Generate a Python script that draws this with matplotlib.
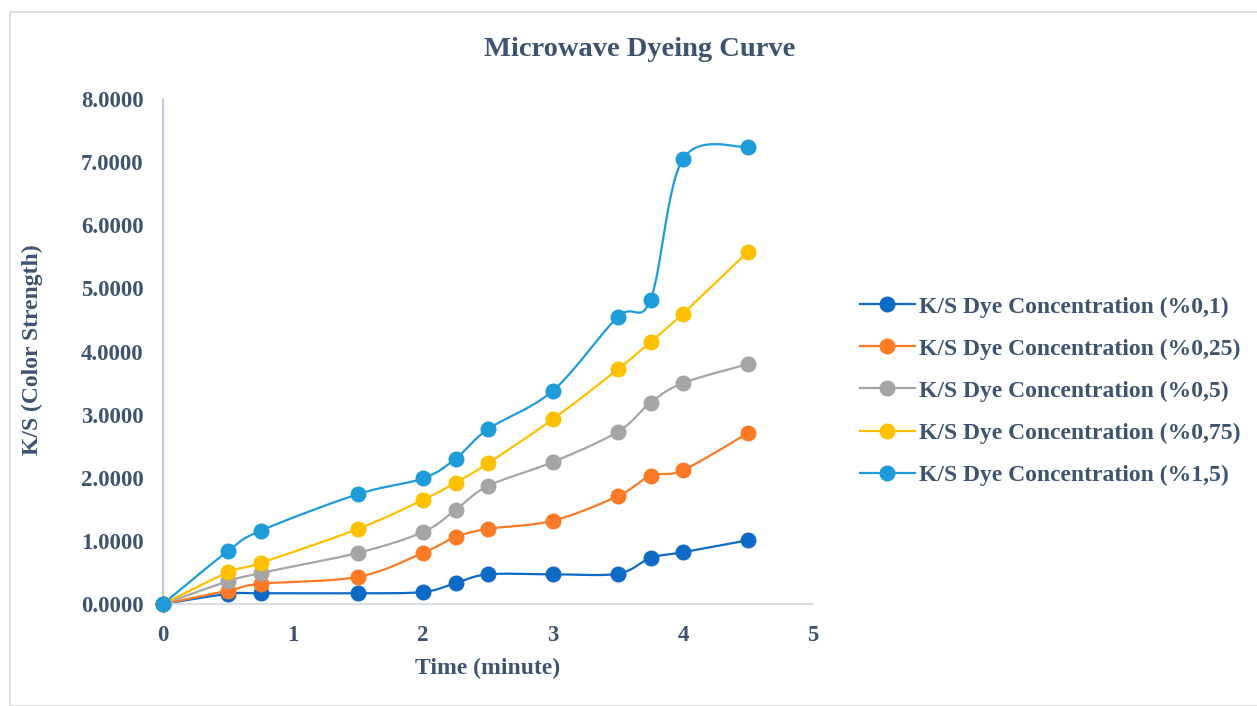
import numpy as np
import matplotlib.pyplot as plt
from matplotlib.patches import Rectangle

# time points (minute)
time = [0, 0.5, 0.75, 1.5, 2, 2.25, 2.5, 3, 3.5, 3.75, 4, 4.5]

ks_01 = [0, 0.16, 0.17, 0.17, 0.19, 0.33, 0.47, 0.47, 0.48, 0.73, 0.82, 1.01]
ks_025 = [0, 0.21, 0.32, 0.43, 0.81, 1.06, 1.19, 1.32, 1.71, 2.03, 2.12, 2.71]
ks_05 = [0, 0.36, 0.49, 0.81, 1.14, 1.49, 1.87, 2.25, 2.73, 3.19, 3.50, 3.80]
ks_075 = [0, 0.50, 0.65, 1.19, 1.65, 1.92, 2.23, 2.93, 3.72, 4.15, 4.60, 5.58]
ks_15 = [0, 0.84, 1.16, 1.74, 1.99, 2.30, 2.77, 3.38, 4.55, 4.82, 7.05, 7.24]

labels = ["K/S Dye Concentration (%0,1)", "K/S Dye Concentration (%0,25)",
          "K/S Dye Concentration (%0,5)", "K/S Dye Concentration (%0,75)",
          "K/S Dye Concentration (%1,5)"]
colors = ["#0E6AC6", "#FB7A25", "#A5A5A5", "#FFC000", "#1E9BD9"]
series = [ks_01, ks_025, ks_05, ks_075, ks_15]

text_color = "#3D5370"
plt.rcParams['font.family'] = ['Liberation Serif', 'DejaVu Serif']
plt.rcParams['font.weight'] = 'bold'


def smooth(x, y, n=30):
    # Catmull-Rom style smoothing, similar to Excel's smoothed line
    x = np.asarray(x, float)
    y = np.asarray(y, float)
    px = np.concatenate([[x[0]], x, [x[-1]]])
    py = np.concatenate([[y[0]], y, [y[-1]]])
    xs, ys = [], []
    t = np.linspace(0, 1, n)
    for i in range(1, len(px) - 2):
        p0, p1, p2, p3 = [np.array([px[j], py[j]]) for j in (i - 1, i, i + 1, i + 2)]
        c1 = p1 + (p2 - p0) / 6
        c2 = p2 - (p3 - p1) / 6
        b = ((1 - t) ** 3)[:, None] * p1 + (3 * (1 - t) ** 2 * t)[:, None] * c1 \
            + (3 * (1 - t) * t ** 2)[:, None] * c2 + (t ** 3)[:, None] * p2
        xs.extend(b[:, 0])
        ys.extend(b[:, 1])
    return xs, ys


fig = plt.figure(figsize=(12.57, 7.06), dpi=100)
ax = fig.add_axes([163 / 1257, 1 - 604 / 706, 650 / 1257, 505 / 706])

for y, c, lab in zip(series, colors, labels):
    sx, sy = smooth(time, y)
    ax.plot(sx, sy, color=c, lw=1.6, zorder=2, clip_on=False)
    ax.plot(time, y, 'o', color=c, ms=10.5, zorder=3, clip_on=False)
    ax.plot([], [], '-o', color=c, lw=1.6, ms=10.5, label=lab)

ax.set_xlim(0, 5)
ax.set_ylim(0, 8)
ax.set_xticks(range(0, 6))
ax.set_yticks(np.arange(0, 9, 1))
ax.set_yticklabels([f"{v:.4f}" for v in range(0, 9)])
ax.tick_params(axis='both', labelsize=16.5, labelcolor=text_color, length=0)
ax.tick_params(axis='x', pad=15)
ax.tick_params(axis='y', pad=14)
for side in ['top', 'right']:
    ax.spines[side].set_visible(False)
ax.spines['left'].set_color("#BFCBDA")
ax.spines['bottom'].set_color("#D9DEE5")
ax.spines['left'].set_linewidth(1.5)
ax.spines['bottom'].set_linewidth(1.5)

fig.text(488 / 1257, 1 - 668 / 706, "Time (minute)", fontsize=17, color=text_color,
         fontweight='bold', ha='center', va='center')
fig.text(32 / 1257, 1 - 350 / 706, "K/S (Color Strength)", fontsize=17, color=text_color,
         fontweight='bold', ha='center', va='center', rotation=90)
fig.text(640 / 1257, 1 - 50 / 706, "Microwave Dyeing Curve", fontsize=20.5, color=text_color,
         fontweight='bold', ha='center', va='center')

leg = ax.legend(loc='center left', bbox_to_anchor=(839 / 1257, 1 - 391 / 706),
                bbox_transform=fig.transFigure, frameon=False, fontsize=17,
                labelspacing=0.87, handlelength=2.3, handletextpad=0.2)
for t in leg.get_texts():
    t.set_color(text_color)

fig.patches.append(Rectangle((10 / 1257, 0), 1, 1 - 12 / 706, transform=fig.transFigure,
                             fill=False, edgecolor="#D9D9D9", lw=1.2))

fig.savefig("out.png", dpi=100)
